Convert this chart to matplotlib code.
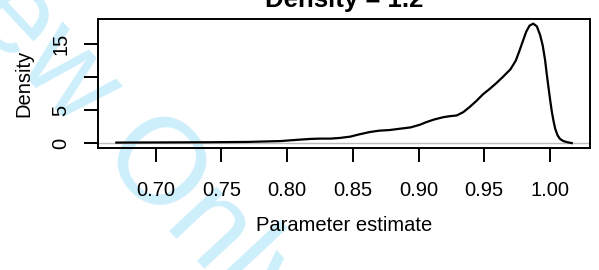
import matplotlib
matplotlib.use('Agg')
import matplotlib.pyplot as plt
import numpy as np

plt.rcParams['font.family'] = ['Liberation Sans', 'DejaVu Sans']

# Dichtekurve, Werte
est = [0.670, 0.700, 0.740, 0.770, 0.795, 0.803, 0.810, 0.8175, 0.825, 0.833,
       0.840, 0.848, 0.855, 0.863, 0.870, 0.878, 0.886, 0.894, 0.901, 0.906,
       0.912, 0.919, 0.924, 0.929, 0.934, 0.939, 0.944, 0.949, 0.954, 0.959,
       0.964, 0.970, 0.974, 0.977, 0.980, 0.982, 0.9845, 0.9873, 0.9900,
       0.9925, 0.9945, 0.9963, 0.9975, 0.9988, 1.0002, 1.0015, 1.0028, 1.0040,
       1.0058, 1.0076, 1.0100, 1.0127, 1.0166]
dens = [0.10, 0.12, 0.15, 0.20, 0.33, 0.45, 0.55, 0.65, 0.70, 0.70,
        0.80, 1.00, 1.35, 1.70, 1.90, 2.00, 2.20, 2.40, 2.80, 3.20,
        3.60, 3.95, 4.10, 4.20, 4.70, 5.50, 6.40, 7.40, 8.20, 9.06,
        10.0, 11.2, 12.5, 14.1, 15.8, 16.9, 17.8, 18.1, 17.7,
        16.4, 14.8, 12.6, 10.6, 8.6, 6.5, 4.7, 3.3, 2.2,
        1.2, 0.67, 0.35, 0.18, 0.02]

xticks = [0.70, 0.75, 0.80, 0.85, 0.90, 0.95, 1.00]
xticklabels = ['0.70', '0.75', '0.80', '0.85', '0.90', '0.95', '1.00']
yticks = [0, 5, 15]
yticklabels = ['0', '5', '15']
yticks_nolabel = [10]

fig = plt.figure(figsize=(5.99, 2.70), dpi=100)
ax = fig.add_axes([98/599, 1 - 148/270, 492/599, 129/270])
ax.patch.set_alpha(0)

# Wasserzeichen
fig.text(-0.332, 1.604, 'Review Only', rotation=-47, rotation_mode='anchor',
         ha='left', va='baseline', fontsize=88, color='#cdeefb', zorder=-5)

ax.axhline(0, color='#bdbdbd', lw=1)
ax.plot(est, dens, color='black', lw=1.6)

ax.set_xlim(0.656, 1.0305)
ax.set_ylim(-0.72, 18.8)
ax.set_xticks(xticks)
ax.set_xticklabels(xticklabels)
ax.set_yticks(yticks)
ax.set_yticklabels(yticklabels, rotation=90, va='center')
ax.set_yticks(yticks_nolabel, minor=True)
ax.tick_params(axis='both', which='both', length=10, width=1.4, labelsize=14.5)
ax.tick_params(axis='x', pad=14)
ax.tick_params(axis='y', pad=10)
for s in ax.spines.values():
    s.set_linewidth(1.4)

ax.set_xlabel('Parameter estimate', fontsize=14.5)
ax.set_ylabel('Density', fontsize=14.5)
ax.xaxis.set_label_coords(0.5, -0.527)
ax.yaxis.set_label_coords(-0.131, 0.5)

fig.text(344/599, 1 - 7/270, 'Density = 1.2', ha='center', va='baseline',
         fontsize=18.5, fontweight='bold')

fig.savefig('out.png', dpi=100)
